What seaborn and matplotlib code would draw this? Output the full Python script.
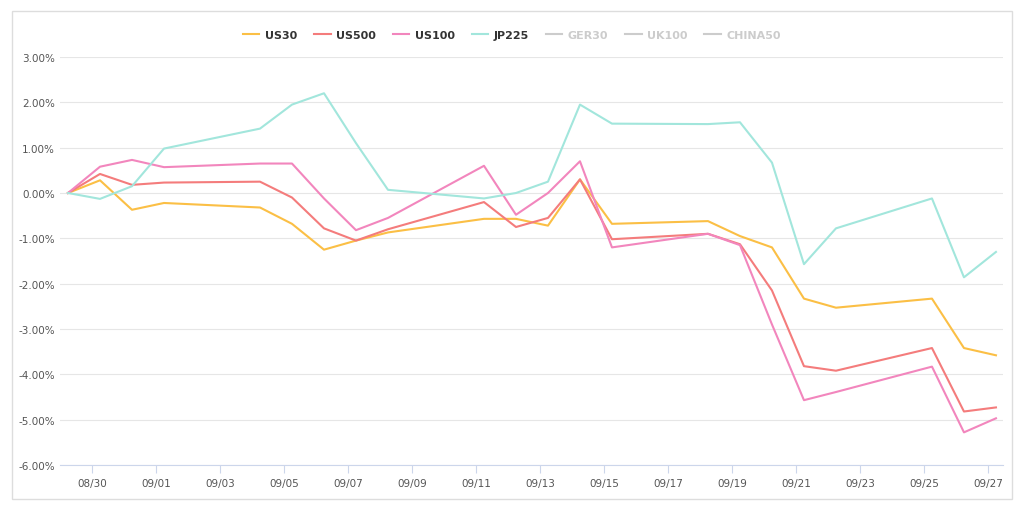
import matplotlib
matplotlib.use("Agg")
import matplotlib.pyplot as plt
import matplotlib.dates as mdates
from matplotlib.ticker import FuncFormatter, MultipleLocator
import seaborn as sns
import pandas as pd

dates = ["08-29","08-30","08-31","09-01","09-04","09-05","09-06","09-07","09-08","09-11","09-12",
         "09-13","09-14","09-15","09-18","09-19","09-20","09-21","09-22","09-25","09-26","09-27"]
us30 = [0, 0.28, -0.37, -0.22, -0.32, -0.68, -1.25, -1.05, -0.87, -0.57, -0.57, -0.72, 0.3, -0.68,
        -0.62, -0.95, -1.2, -2.33, -2.53, -2.33, -3.42, -3.58]
us500 = [0, 0.42, 0.18, 0.23, 0.25, -0.1, -0.78, -1.05, -0.8, -0.2, -0.75, -0.55, 0.3, -1.02,
         -0.9, -1.13, -2.15, -3.82, -3.92, -3.42, -4.82, -4.73]
us100 = [0, 0.58, 0.73, 0.57, 0.65, 0.65, -0.12, -0.82, -0.55, 0.6, -0.48, 0.0, 0.7, -1.2,
         -0.9, -1.15, -2.9, -4.57, -4.39, -3.83, -5.28, -4.97]
jp225 = [0, -0.13, 0.15, 0.98, 1.42, 1.95, 2.2, 1.1, 0.07, -0.12, 0.0, 0.25, 1.95, 1.53,
         1.52, 1.56, 0.67, -1.57, -0.78, -0.12, -1.86, -1.3]
series = {"US30": us30, "US500": us500, "US100": us100, "JP225": jp225}
colors = {"US30": "#fbbf45", "US500": "#f47c7c", "US100": "#f286bd", "JP225": "#a2e6dc"}
hidden = ["GER30", "UK100", "CHINA50"]

t = pd.to_datetime(["2024-" + d + " 06:00" for d in dates])
df = pd.concat([pd.DataFrame({"date": t, "value": v, "name": k}) for k, v in series.items()])

fig = plt.figure(figsize=(10.24, 5.10), dpi=100)
ax = fig.add_axes([60/1024, 1-466/510, 943/1024, 408/510])
sns.lineplot(data=df, x="date", y="value", hue="name", palette=colors, ax=ax, lw=1.5, legend=False)

ax.set_ylim(-6, 3)
ax.set_xlim(pd.Timestamp("2024-08-29"), pd.Timestamp("2024-08-29") + pd.Timedelta(days=29.47))
ax.yaxis.set_major_locator(MultipleLocator(1))
ax.yaxis.set_major_formatter(FuncFormatter(lambda v, p: f"{v:.2f}%"))
ticks = pd.date_range("2024-08-30", "2024-09-27", freq="2D")
ax.set_xticks(ticks)
ax.xaxis.set_major_formatter(mdates.DateFormatter("%m/%d"))
ax.set_xlabel(""); ax.set_ylabel("")
ax.grid(axis="y", color="#e6e6e6", lw=0.8)
for s in ["top", "right", "left"]:
    ax.spines[s].set_visible(False)
ax.spines["bottom"].set_color("#ccd6eb")
ax.tick_params(axis="y", length=0, labelsize=7.5, colors="#555555")
ax.tick_params(axis="x", length=6, color="#ccd6eb", labelsize=7.5, colors="#555555")

from matplotlib.lines import Line2D
handles = [Line2D([], [], color=colors[k], lw=1.5) for k in series] + \
          [Line2D([], [], color="#cccccc", lw=1.5) for _ in hidden]
labels = list(series) + hidden
leg = fig.legend(handles, labels, loc="center", bbox_to_anchor=(0.5, 1-36/510), ncol=7,
                 frameon=False, fontsize=8, handlelength=1.5, columnspacing=1.5, handletextpad=0.5)
for txt, lab in zip(leg.get_texts(), labels):
    txt.set_fontweight("bold")
    txt.set_color("#cccccc" if lab in hidden else "#333333")

border = plt.Rectangle((12/1024, 1-500/510), 1000/1024, 488/510, transform=fig.transFigure,
                       fill=False, ec="#dddddd", lw=1)
fig.patches.append(border)
fig.savefig("out.png", dpi=100)
